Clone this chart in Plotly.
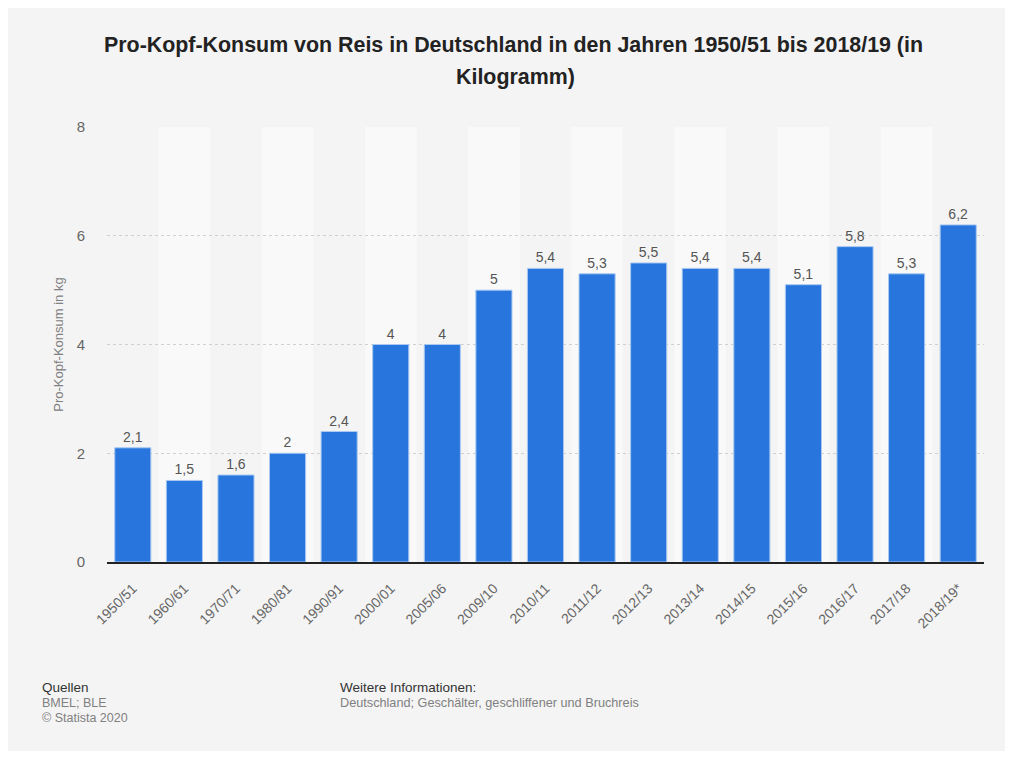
import plotly.graph_objects as go

categories = ["1950/51", "1960/61", "1970/71", "1980/81", "1990/91", "2000/01", "2005/06",
              "2009/10", "2010/11", "2011/12", "2012/13", "2013/14", "2014/15", "2015/16",
              "2016/17", "2017/18", "2018/19*"]
values = [2.1, 1.5, 1.6, 2, 2.4, 4, 4, 5, 5.4, 5.3, 5.5, 5.4, 5.4, 5.1, 5.8, 5.3, 6.2]
y_ticks = [0, 2, 4, 6, 8]

labels = [(f"{v:g}").replace(".", ",") for v in values]

# page body has an 8px margin; work in screen pixels and convert
OFF = 8
W, H = 1013 - OFF, 757 - OFF
L, T = 107 - OFF, 127 - OFF
R = W - (984 - OFF)
B = H - (562 - OFF)
pw, ph = W - L - R, H - T - B

def px_x(p):
    return (p - OFF - L) / pw

def px_y(p):
    return (H - B - (p - OFF)) / ph

font = "Liberation Sans, Arial, Helvetica, sans-serif"

fig = go.Figure()
fig.add_trace(go.Bar(
    x=categories, y=values, text=labels, textposition="outside",
    textfont=dict(size=14, color="#555555", family=font),
    marker=dict(color="#2876dd", line=dict(color="#a9c9f2", width=1)),
    width=0.7, cliponaxis=False,
))

shapes = [dict(type="rect", xref="paper", yref="paper",
               x0=px_x(7), x1=px_x(1006), y0=px_y(751), y1=px_y(8),
               fillcolor="#f4f4f4", line=dict(width=0), layer="below")]
for i in range(1, len(categories), 2):
    shapes.append(dict(type="rect", xref="x", yref="paper", x0=i - 0.5, x1=i + 0.5,
                       y0=0, y1=1, fillcolor="#f9f9f9", line=dict(width=0), layer="below"))

annotations = [
    dict(text="<b>Pro-Kopf-Konsum von Reis in Deutschland in den Jahren 1950/51 bis 2018/19 (in</b>",
         x=px_x(513), y=px_y(45), xref="paper", yref="paper", showarrow=False,
         font=dict(size=21.4, color="#222222", family=font), xanchor="center", yanchor="middle"),
    dict(text="<b>Kilogramm)</b>",
         x=px_x(515), y=px_y(77), xref="paper", yref="paper", showarrow=False,
         font=dict(size=21.4, color="#222222", family=font), xanchor="center", yanchor="middle"),
    dict(text="Quellen", x=px_x(40), y=px_y(687), xref="paper", yref="paper", showarrow=False,
         font=dict(size=13.5, color="#333333", family=font), xanchor="left", yanchor="middle"),
    dict(text="BMEL; BLE", x=px_x(40), y=px_y(703), xref="paper", yref="paper", showarrow=False,
         font=dict(size=12.5, color="#808080", family=font), xanchor="left", yanchor="middle"),
    dict(text="© Statista 2020", x=px_x(40), y=px_y(718), xref="paper", yref="paper", showarrow=False,
         font=dict(size=12.5, color="#808080", family=font), xanchor="left", yanchor="middle"),
    dict(text="Weitere Informationen:", x=px_x(338), y=px_y(687), xref="paper", yref="paper",
         showarrow=False, font=dict(size=13.5, color="#333333", family=font),
         xanchor="left", yanchor="middle"),
    dict(text="Deutschland; Geschälter, geschliffener und Bruchreis", x=px_x(338), y=px_y(703),
         xref="paper", yref="paper", showarrow=False,
         font=dict(size=12.7, color="#808080", family=font), xanchor="left", yanchor="middle"),
]

fig.update_layout(
    width=W, height=H,
    margin=dict(l=L, r=R, t=T, b=B, pad=0),
    paper_bgcolor="white", plot_bgcolor="rgba(0,0,0,0)",
    showlegend=False, bargap=0.3,
    shapes=shapes, annotations=annotations,
    font=dict(family=font),
    xaxis=dict(tickangle=-45, tickfont=dict(size=14, color="#666666"),
               showline=True, linecolor="#222222", linewidth=1.5, ticks="outside",
               ticklen=11, tickcolor="rgba(0,0,0,0)",
               showgrid=False, fixedrange=True),
    yaxis=dict(range=[0, 8], tickvals=y_ticks, tickfont=dict(size=15, color="#666666"),
               showgrid=True, gridcolor="#d0d0d0", griddash="dot", gridwidth=1,
               zeroline=False, ticks="outside", ticklen=18, tickcolor="rgba(0,0,0,0)",
               title=dict(text="Pro-Kopf-Konsum in kg", font=dict(size=13, color="#808080"),
                          standoff=10)),
)

fig.write_html("out.html")
